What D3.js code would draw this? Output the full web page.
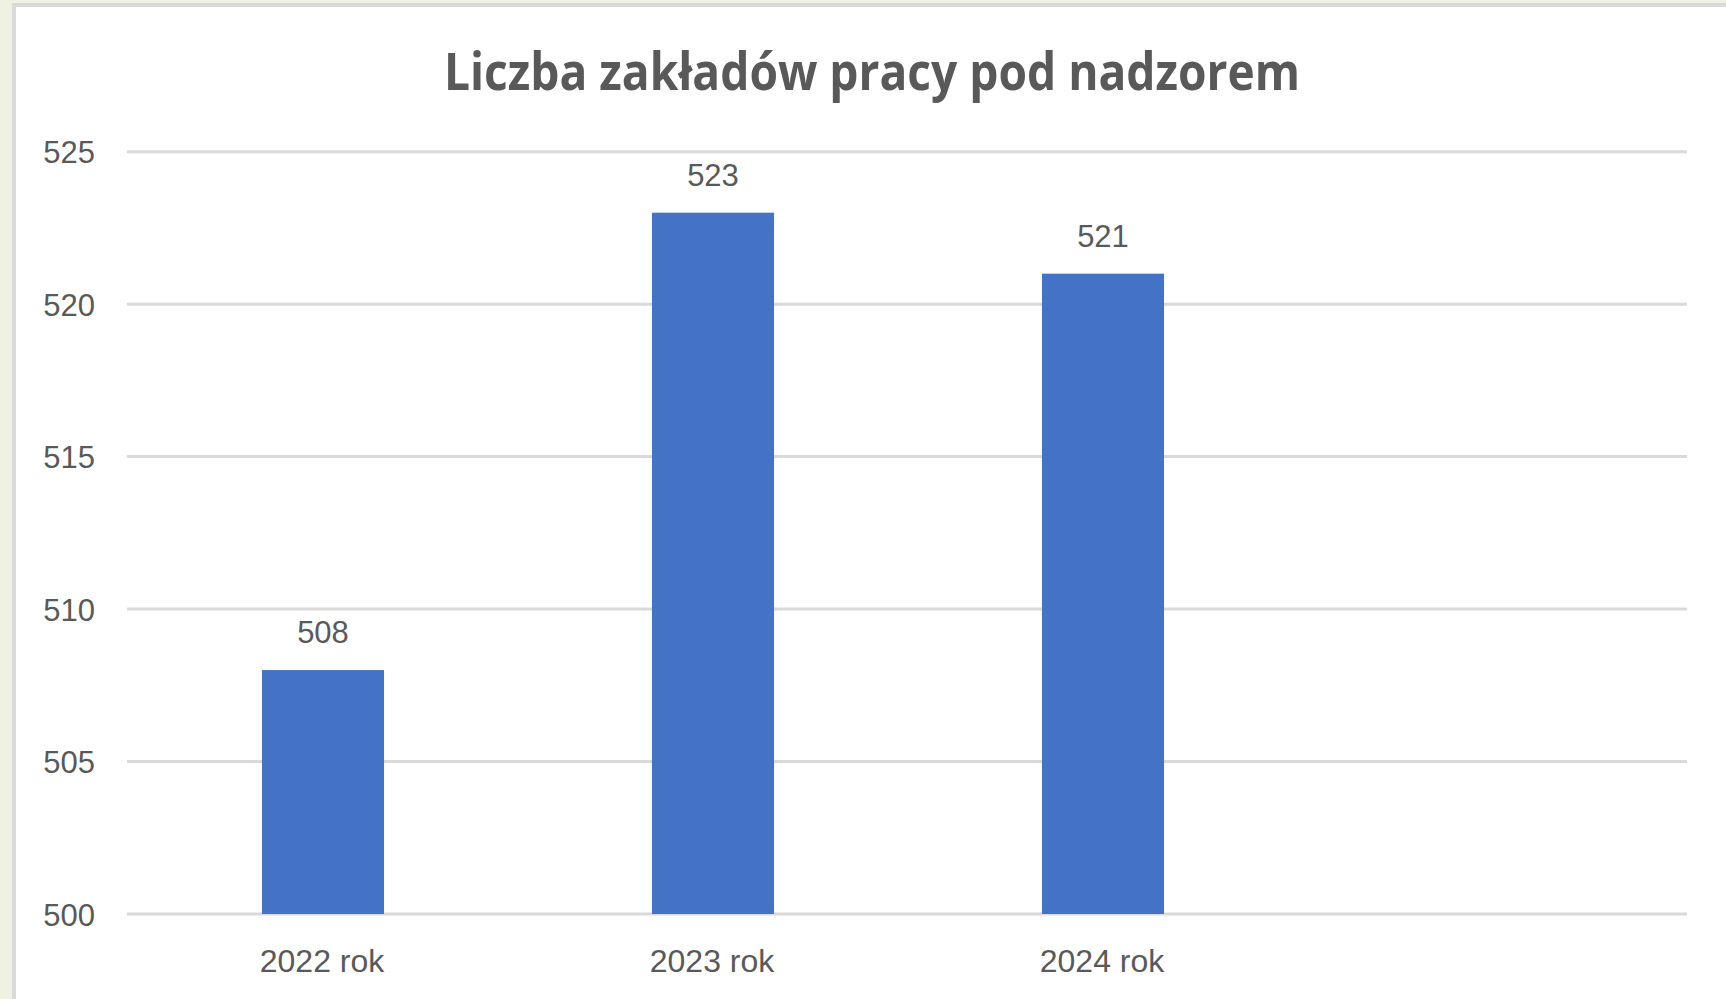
<!DOCTYPE html>
<html>
  <head>
    <meta charset="utf-8">
    <script src="https://d3js.org/d3.v7.min.js"></script>
    <style>
      body { margin: 0; background: #eff2e2; }
      svg { display: block; }
      .tick text, .label, .val {
        font-family: "Liberation Sans", "Open Sans", Arial, sans-serif;
        fill: #595959;
      }
    </style>
  </head>
  <body>
    <svg width="1726" height="999"></svg>
    <script>
    var title = "Liczba zakładów pracy pod nadzorem";
    var categories = ["2022 rok", "2023 rok", "2024 rok", ""];
    var values = [508, 523, 521];
    var yTicks = [500, 505, 510, 515, 520, 525];

    var svg = d3.select("svg");

    // chart box (cut off at right and bottom like the screenshot)
    svg.append("rect")
        .attr("x", 14).attr("y", 5)
        .attr("width", 1800).attr("height", 1100)
        .attr("fill", "#fff")
        .attr("stroke", "#d9d9d9")
        .attr("stroke-width", 4);

    var plotLeft = 127, plotRight = 1687, plotTop = 151.7, plotBottom = 914;

    var x = d3.scaleBand().domain(categories).range([plotLeft, plotRight])
        .paddingInner(0.687).paddingOuter(0.3435);
    var y = d3.scaleLinear().domain([500, 525]).range([plotBottom, plotTop]);

    // gridlines
    svg.append("g").selectAll("line")
        .data(yTicks)
        .enter().append("line")
        .attr("x1", plotLeft).attr("x2", plotRight)
        .attr("y1", function(d) { return y(d); })
        .attr("y2", function(d) { return y(d); })
        .attr("stroke", "#d9d9d9")
        .attr("stroke-width", 3);

    // y axis labels
    var yAxis = svg.append("g")
        .attr("transform", "translate(" + 95 + ",0)")
        .call(d3.axisLeft(y).tickValues(yTicks).tickSize(0).tickPadding(0));
    yAxis.select(".domain").remove();
    yAxis.selectAll("text").style("font-size", "31px").attr("dy", "0.36em");

    // x axis labels
    var xAxis = svg.append("g")
        .attr("transform", "translate(0," + plotBottom + ")")
        .call(d3.axisBottom(x).tickSize(0).tickPadding(0));
    xAxis.select(".domain").remove();
    xAxis.selectAll("text").style("font-size", "32px").attr("y", 58).attr("dy", 0);

    var data = values.map(function(v, i) { return {cat: categories[i], value: v}; });

    svg.append("g").selectAll("rect")
        .data(data)
        .enter().append("rect")
        .attr("x", function(d) { return x(d.cat) + 1; })
        .attr("y", function(d) { return y(d.value); })
        .attr("width", x.bandwidth())
        .attr("height", function(d) { return plotBottom - y(d.value); })
        .attr("fill", "#4472c4");

    svg.append("g").selectAll("text")
        .data(data)
        .enter().append("text")
        .attr("class", "val")
        .attr("x", function(d) { return x(d.cat) + x.bandwidth() / 2 + 1; })
        .attr("y", function(d) { return y(d.value) - 27; })
        .attr("text-anchor", "middle")
        .style("font-size", "31px")
        .text(function(d) { return d.value; });

    svg.append("text")
        .attr("class", "label")
        .attr("x", 872).attr("y", 90)
        .attr("text-anchor", "middle")
        .attr("textLength", 856)
        .attr("lengthAdjust", "spacingAndGlyphs")
        .style("font-size", "52px")
        .style("font-weight", "bold")
        .style("font-family", "'Open Sans', 'Liberation Sans', sans-serif")
        .text(title);
    </script>
  </body>
</html>
